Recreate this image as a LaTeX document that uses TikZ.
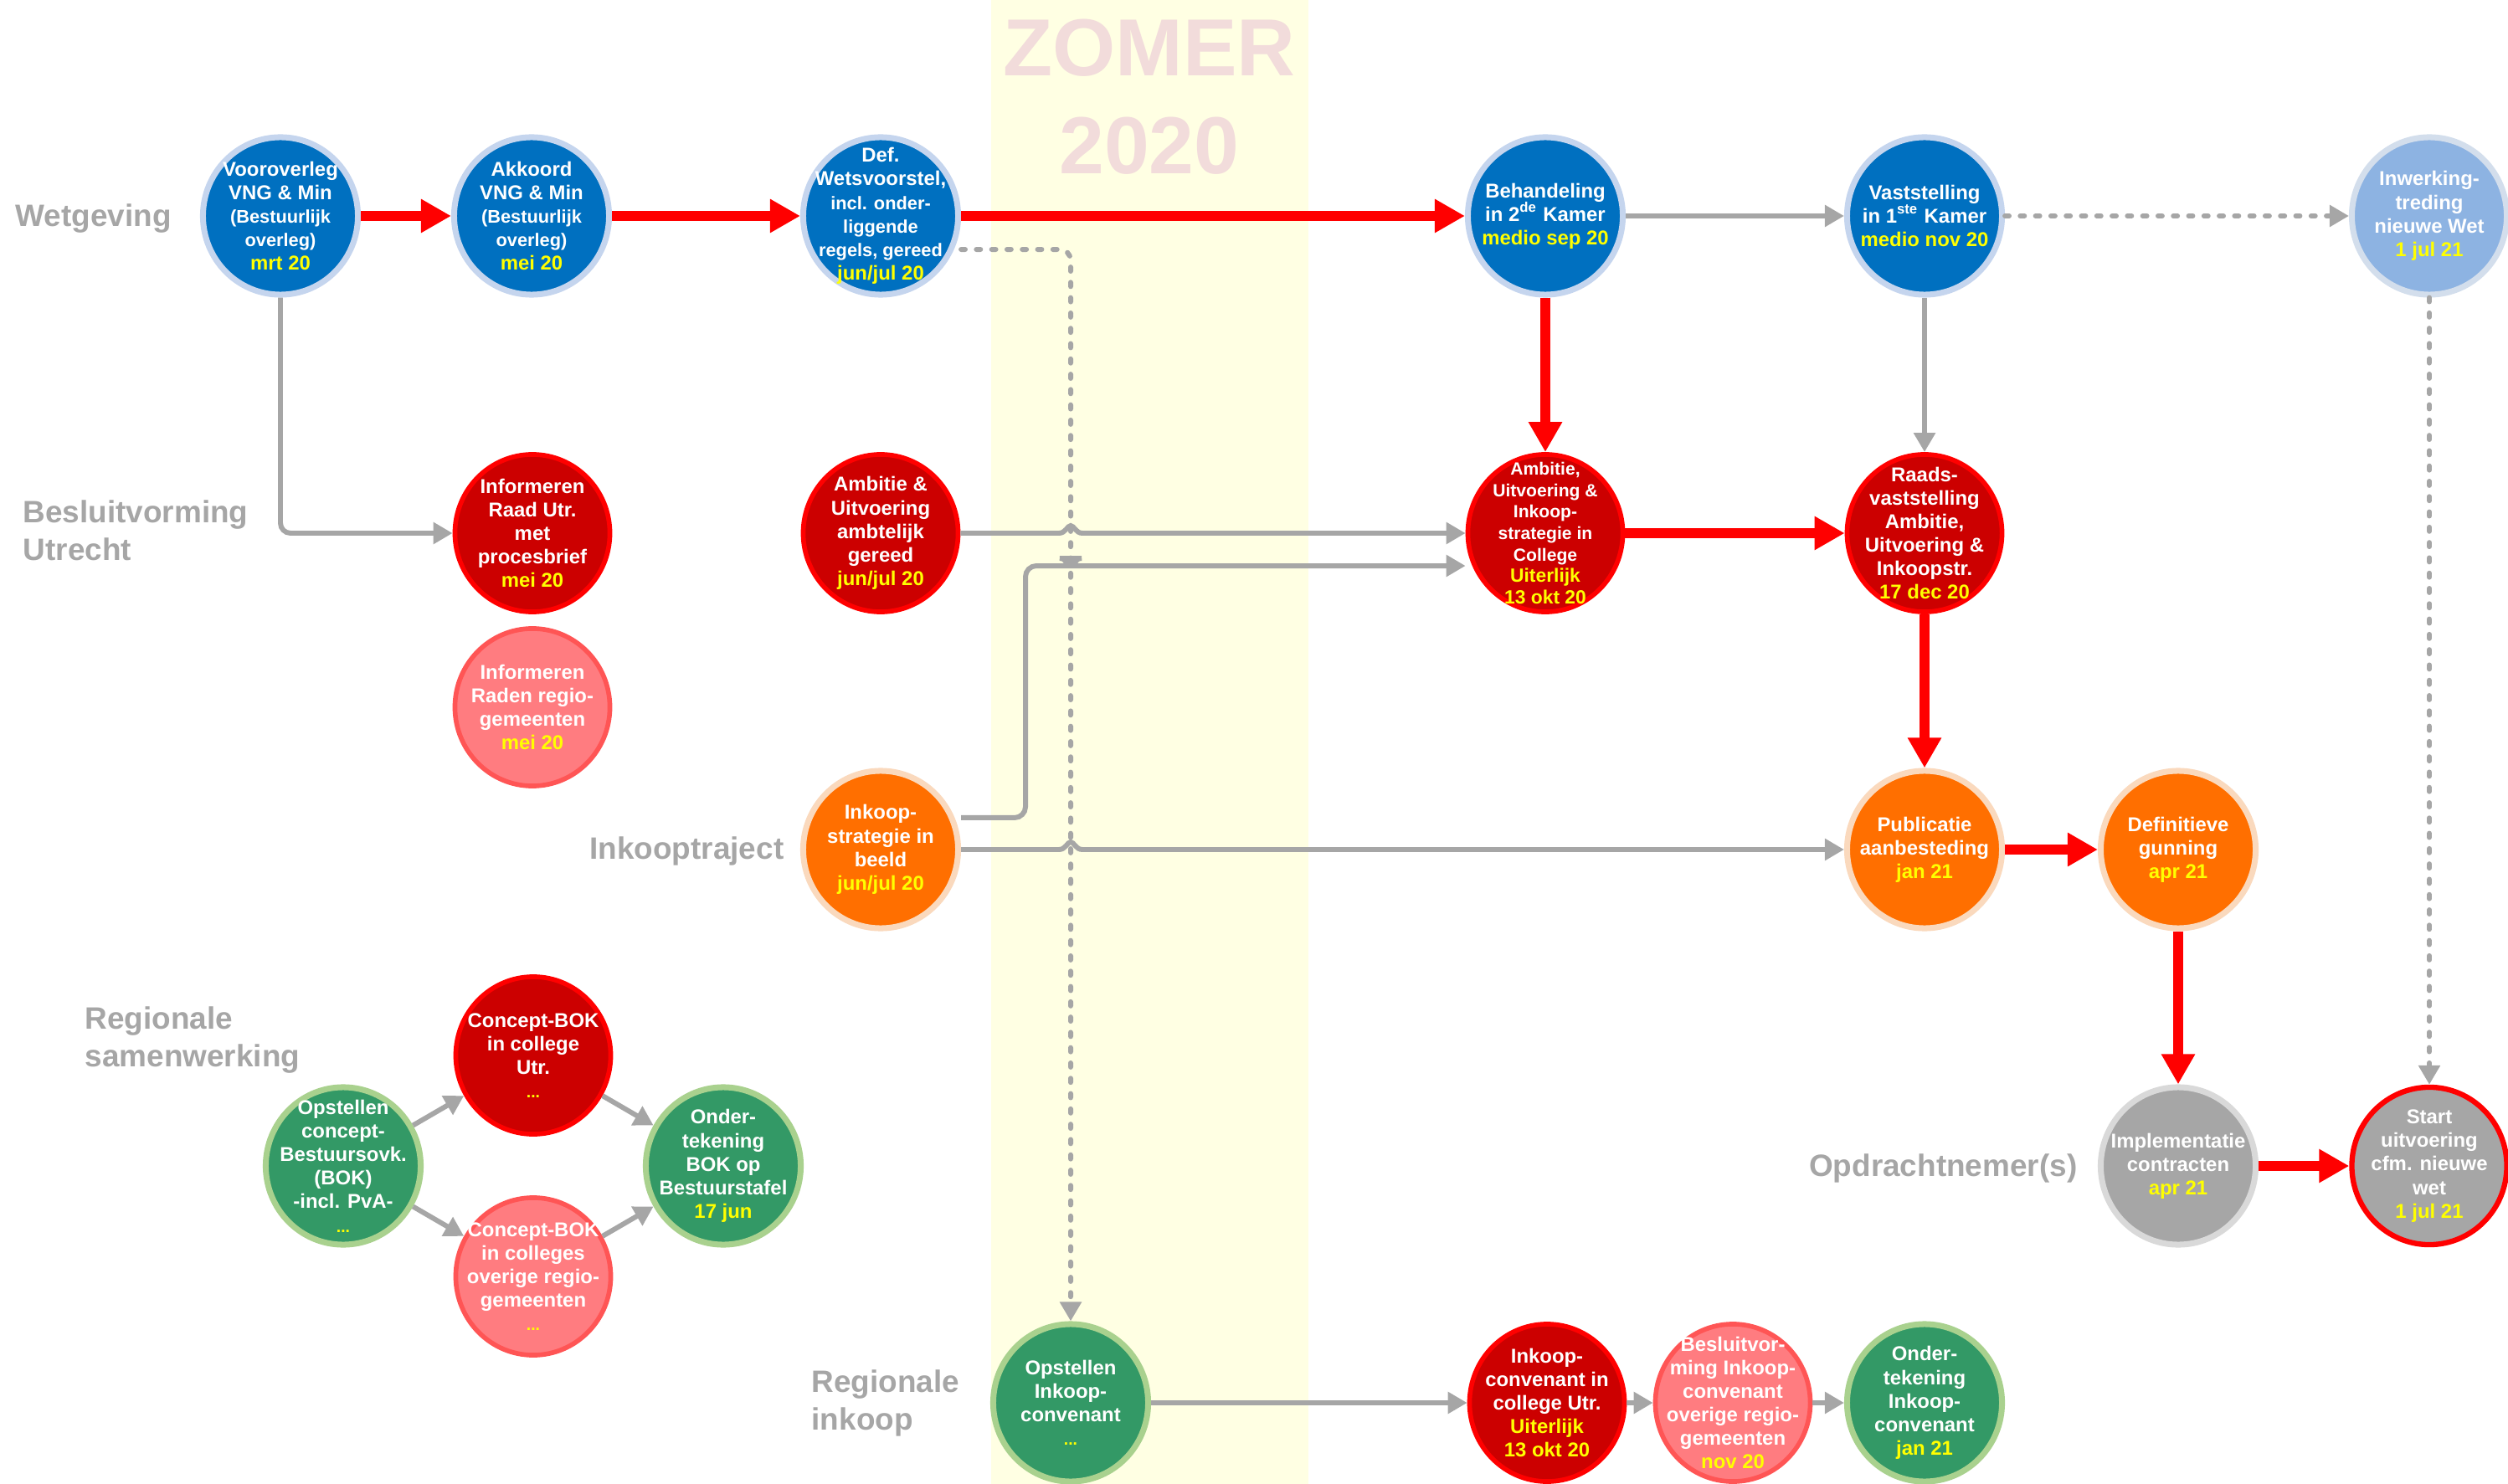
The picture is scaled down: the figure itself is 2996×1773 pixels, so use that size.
\documentclass[tikz,border=0pt]{standalone}
\usepackage{fontspec}
\setmainfont{Liberation Sans}
\usetikzlibrary{shapes.geometric,arrows.meta}
\definecolor{nblue}{HTML}{0070C0}
\definecolor{nbluering}{HTML}{C5D5EE}
\definecolor{lblue}{HTML}{8DB3E2}
\definecolor{lbluering}{HTML}{D3DEEC}
\definecolor{nred}{HTML}{CC0000}
\definecolor{nredring}{HTML}{FF0000}
\definecolor{lred}{HTML}{FF7C80}
\definecolor{lredring}{HTML}{FF5555}
\definecolor{nor}{HTML}{FF6F00}
\definecolor{norring}{HTML}{FAD9BD}
\definecolor{ngrey}{HTML}{A6A6A6}
\definecolor{ngreyring}{HTML}{D9D9D9}
\definecolor{ngreen}{HTML}{339966}
\definecolor{ngreenring}{HTML}{A9D18E}
\definecolor{ytxt}{HTML}{FFFF00}
\definecolor{lbl}{HTML}{A6A6A6}
\definecolor{arrred}{HTML}{FF0000}
\definecolor{bandcol}{HTML}{FFFFE3}
\definecolor{zomercol}{HTML}{F2DCDB}
\newcommand\yd[1]{{\color{ytxt}#1}}
\newcommand\smt{\fontsize{6.2}{8}\selectfont}
\newcommand\ydots{\yd{\fontsize{5.5}{8}\selectfont ...}}
\tikzset{
  ev/.style={ellipse, minimum width=1.85cm, minimum height=1.88cm, inner sep=-1cm,
    align=center, text=white, font=\fontsize{6.8}{8}\selectfont\bfseries, line width=2pt},
  bluenode/.style={ev, fill=nblue, draw=nbluering},
  lbluenode/.style={ev, fill=lblue, draw=lbluering},
  rednode/.style={ev, fill=nred, draw=nredring, line width=1.6pt},
  lrednode/.style={ev, fill=lred, draw=lredring, line width=1.6pt},
  ornode/.style={ev, fill=nor, draw=norring},
  greynode/.style={ev, fill=ngrey, draw=ngreyring},
  startnode/.style={ev, fill=ngrey, draw=nredring, line width=1.8pt},
  greennode/.style={ev, fill=ngreen, draw=ngreenring},
  rowlabel/.style={text=lbl, font=\fontsize{10.5}{12.8}\selectfont\bfseries, align=left, inner sep=0pt},
  redarr/.style={draw=arrred, line width=3.4pt, -{Triangle[length=0.36cm,width=0.38cm]}},
  greyarr/.style={draw=ngrey, line width=1.7pt, -{Triangle[length=0.23cm,width=0.25cm]}},
  dotarr/.style={greyarr, line cap=round, dash pattern=on 1.4pt off 3.8pt},
}
\begin{document}
\begin{tikzpicture}[x=0.01cm, y=-0.01cm]
\useasboundingbox (0,0) rectangle (2996,1773);
% summer band
\fill[bandcol] (1184,0) rectangle (1563,1773);
\node[text=zomercol, font=\fontsize{27.5}{33}\selectfont\bfseries] (zomer) at (1373,57) {ZOMER};
\node[text=zomercol, font=\fontsize{27.5}{33}\selectfont\bfseries] (jaar) at (1373,174) {2020};

% row labels
\node[rowlabel, anchor=west] (lwet) at (18,261) {Wetgeving};
\node[rowlabel, anchor=west] (lbes) at (27,634) {Besluitvorming\\Utrecht};
\node[rowlabel, anchor=east] (link) at (937,1017) {Inkooptraject};
\node[rowlabel, anchor=west] (lreg) at (101,1243) {Regionale\\samenwerking};
\node[rowlabel, anchor=east] (lopd) at (2482,1396) {Opdrachtnemer(s)};
\node[rowlabel, anchor=west] (lrin) at (969,1676) {Regionale\\inkoop};

% Wetgeving
\node[bluenode] (vor) at (335,258) {Vooroverleg\\VNG \& Min\\{\smt(Bestuurlijk}\\{\smt overleg)}\\\yd{mrt 20}};
\node[bluenode] (akk) at (635,258) {Akkoord\\VNG \& Min\\{\smt(Bestuurlijk}\\{\smt overleg)}\\\yd{mei 20}};
\node[bluenode] (def) at (1052,258) {Def.\\Wetsvoorstel,\\{\smt incl. onder-}\\{\smt liggende}\\{\smt regels, gereed}\\\yd{jun/jul 20}};
\node[bluenode] (beh) at (1846,258) {Behandeling\\in 2\textsuperscript{de} Kamer\\\yd{medio sep 20}};
\node[bluenode] (vas) at (2299,258) {Vaststelling\\in 1\textsuperscript{ste} Kamer\\\yd{medio nov 20}};
\node[lbluenode] (inw) at (2902,258) {Inwerking-\\treding\\nieuwe Wet\\\yd{1 jul 21}};

% Besluitvorming Utrecht
\node[rednode] (infu) at (636,637) {Informeren\\Raad Utr.\\met\\procesbrief\\\yd{mei 20}};
\node[lrednode] (infr) at (636,845) {Informeren\\Raden regio-\\gemeenten\\\yd{mei 20}};
\node[rednode] (ambg) at (1052,637) {Ambitie \&\\Uitvoering\\ambtelijk\\gereed\\\yd{jun/jul 20}};
\node[rednode, font=\fontsize{6.0}{7.3}\selectfont\bfseries] (ambc) at (1846,637)
  {Ambitie,\\Uitvoering \&\\Inkoop-\\strategie in\\College\\\yd{\fontsize{6.5}{7.6}\selectfont Uiterlijk}\\\yd{\fontsize{6.5}{7.6}\selectfont 13 okt 20}};
\node[rednode] (raad) at (2299,637) {Raads-\\vaststelling\\Ambitie,\\Uitvoering \&\\Inkoopstr.\\\yd{17 dec 20}};

% Inkooptraject
\node[ornode] (inks) at (1052,1015) {Inkoop-\\strategie in\\beeld\\\yd{jun/jul 20}};
\node[ornode] (pub) at (2299,1015) {Publicatie\\aanbesteding\\\yd{jan 21}};
\node[ornode] (gun) at (2602,1015) {Definitieve\\gunning\\\yd{apr 21}};

% Opdrachtnemer(s)
\node[greynode] (imp) at (2602,1393) {Implementatie\\contracten\\\yd{apr 21}};
\node[startnode] (start) at (2902,1393) {Start\\uitvoering\\cfm. nieuwe\\wet\\\yd{1 jul 21}};

% Regionale samenwerking
\node[greennode] (opst) at (410,1393) {Opstellen\\concept-\\Bestuursovk.\\(BOK)\\-incl. PvA-\\\ydots};
\node[rednode] (cbu) at (637,1261) {Concept-BOK\\in college\\Utr.\\\ydots};
\node[lrednode] (cbo) at (637,1525) {Concept-BOK\\in colleges\\overige regio-\\gemeenten\\\ydots};
\node[greennode] (ondb) at (864,1393) {Onder-\\tekening\\BOK op\\Bestuurstafel\\\yd{17 jun}};

% Regionale inkoop
\node[greennode] (opsi) at (1279,1676) {Opstellen\\Inkoop-\\convenant\\\ydots};
\node[rednode] (inkc) at (1848,1676) {Inkoop-\\convenant in\\college Utr.\\\yd{Uiterlijk}\\\yd{13 okt 20}};
\node[lrednode] (besl) at (2070,1676) {Besluitvor-\\ming Inkoop-\\convenant\\overige regio-\\gemeenten\\\yd{nov 20}};
\node[greennode] (ondi) at (2299,1676) {Onder-\\tekening\\Inkoop-\\convenant\\\yd{jan 21}};

% helper coordinates
\coordinate (dv) at (1279,0);
\coordinate (bend) at (1225,0);
\coordinate (h1) at (ambg.east -| dv);
\coordinate (h2) at ([yshift=-0.39cm]ambc.west -| dv);
\coordinate (h3) at (inks.east -| dv);

% red main flow
\draw[redarr] (vor) -- (akk);
\draw[redarr] (akk) -- (def);
\draw[redarr] (def) -- (beh);
\draw[redarr] (beh) -- (ambc);
\draw[redarr] (ambc) -- (raad);
\draw[redarr] (raad) -- (pub);
\draw[redarr] (pub) -- (gun);
\draw[redarr] (gun) -- (imp);
\draw[redarr] (imp) -- (start);

% grey connectors
\draw[greyarr] (beh) -- (vas);
\draw[greyarr] (vas) -- (raad);
\draw[dotarr] (vas) -- (inw);
\draw[dotarr] (inw) -- (start);
\draw[greyarr, rounded corners=0.12cm] (vor.south) |- (infu.west);
\draw[dotarr, rounded corners=0.13cm] ([yshift=-0.40cm]def.east) -| (opsi.north);

\draw[greyarr] (ambg.east) -- ([xshift=-0.14cm]h1)
  .. controls +(0.08cm,0) and +(-0.04cm,0) .. ([yshift=0.09cm]h1)
  .. controls +(0.04cm,0) and +(-0.08cm,0) .. ([xshift=0.14cm]h1) -- (ambc.west);
\draw[greyarr, rounded corners=0.13cm] ([yshift=0.38cm]inks.east) -- ([yshift=0.38cm]inks.east -| bend)
  -- (bend |- h2) -- ([xshift=-0.14cm]h2)
  .. controls +(0.08cm,0) and +(-0.04cm,0) .. ([yshift=0.09cm]h2)
  .. controls +(0.04cm,0) and +(-0.08cm,0) .. ([xshift=0.14cm]h2) -- ([yshift=-0.39cm]ambc.west);
\draw[greyarr] (inks.east) -- ([xshift=-0.14cm]h3)
  .. controls +(0.08cm,0) and +(-0.04cm,0) .. ([yshift=0.09cm]h3)
  .. controls +(0.04cm,0) and +(-0.08cm,0) .. ([xshift=0.14cm]h3) -- (pub.west);

\draw[greyarr] (opst) -- (cbu);
\draw[greyarr] (opst) -- (cbo);
\draw[greyarr] (cbu) -- (ondb);
\draw[greyarr] (cbo) -- (ondb);

\draw[greyarr] (opsi) -- (inkc);
\draw[greyarr] (inkc) -- (besl);
\draw[greyarr] (besl) -- (ondi);
\end{tikzpicture}
\end{document}
